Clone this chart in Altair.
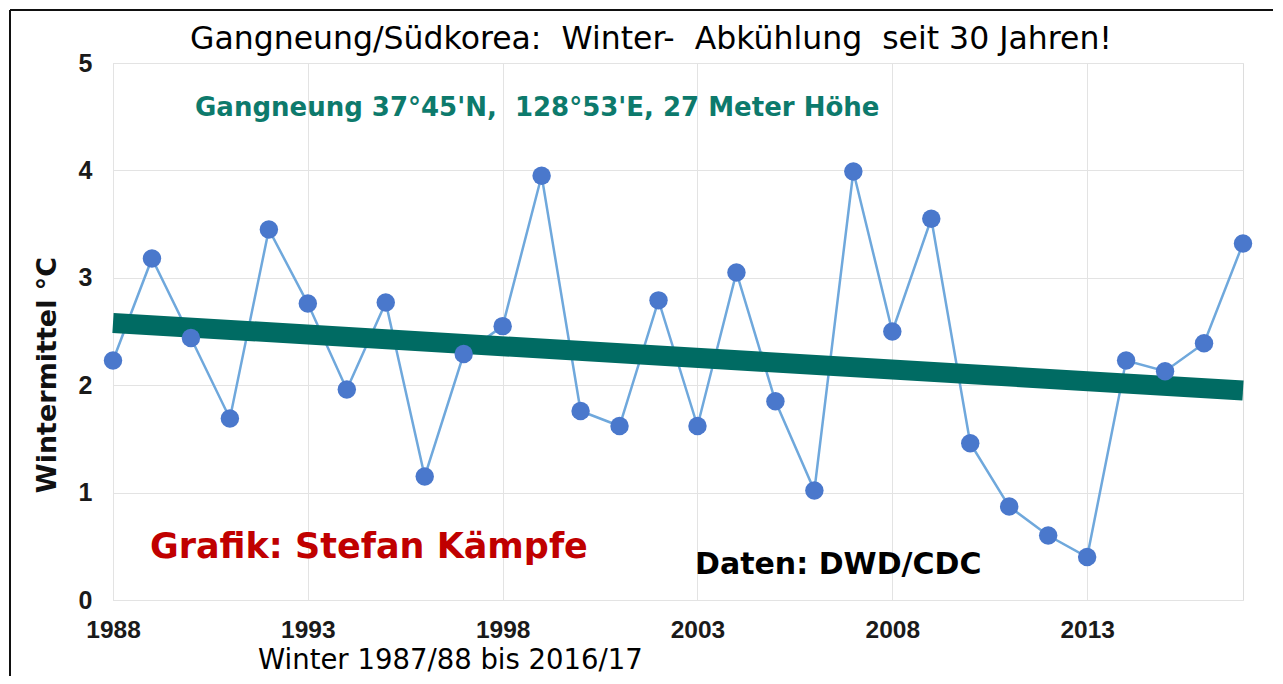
import altair as alt
import pandas as pd

years = list(range(1988, 2018))
temps = [2.23, 3.18, 2.44, 1.69, 3.45, 2.76, 1.96, 2.77, 1.15, 2.29,
         2.55, 3.95, 1.76, 1.62, 2.79, 1.62, 3.05, 1.85, 1.02, 3.99,
         2.50, 3.55, 1.46, 0.87, 0.60, 0.40, 2.23, 2.13, 2.39, 3.32]
trend_years = [1988, 2017]
trend_vals = [2.58, 1.95]
x_ticks = [1988, 1993, 1998, 2003, 2008, 2013]
y_ticks = [0, 1, 2, 3, 4, 5]

NB = "\u00a0"
title_text = f"Gangneung/Südkorea:{NB} Winter-{NB} Abkühlung{NB} seit 30 Jahren!"
subtitle_text = f"Gangneung 37°45'N,{NB} 128°53'E, 27 Meter Höhe"
credit_text = "Grafik: Stefan Kämpfe"
data_text = "Daten: DWD/CDC"
x_title = "Winter 1987/88 bis 2016/17"
y_title = "Wintermittel °C"

df = pd.DataFrame({"year": years, "temp": temps})
tdf = pd.DataFrame({"year": trend_years, "temp": trend_vals})

FONT = "Liberation Sans"
WIDE = "DejaVu Sans"

xs = alt.Scale(domain=[1988, 2017], nice=False, zero=False)
ys = alt.Scale(domain=[0, 5], nice=False)

x_axis = alt.Axis(values=x_ticks, format="d", labelFont=FONT, labelFontSize=24.5,
                  labelFontWeight="bold", labelColor="#1a1a1a", labelPadding=18,
                  labelFlush=False, tickSize=0, domain=False, grid=True,
                  gridColor="#e3e3e3", title=None)
y_axis = alt.Axis(values=y_ticks, format="d", labelFont=FONT, labelFontSize=25,
                  labelFontWeight="bold", labelColor="#1a1a1a", labelPadding=21,
                  labelFlush=False, tickSize=0, domain=False, grid=True,
                  gridColor="#e3e3e3", title=None)

base = alt.Chart(df)

line = base.mark_line(color="#6fa8dc", strokeWidth=2.5).encode(
    x=alt.X("year:Q", scale=xs, axis=x_axis),
    y=alt.Y("temp:Q", scale=ys, axis=y_axis),
)

trend = alt.Chart(tdf).mark_line(color="#006b63", strokeWidth=20, strokeCap="butt").encode(
    x=alt.X("year:Q", scale=xs),
    y=alt.Y("temp:Q", scale=ys),
)

points = base.mark_circle(color="#4a78cc", opacity=1, size=340).encode(
    x=alt.X("year:Q", scale=xs),
    y=alt.Y("temp:Q", scale=ys),
)

def label(text, x, y, size, color="#111", weight="bold", align="left", angle=None,
          font=WIDE, baseline="middle"):
    kw = dict(text=text, font=font, fontSize=size, fontWeight=weight, color=color,
              align=align, baseline=baseline)
    if angle is not None:
        kw["angle"] = angle
    return alt.Chart(pd.DataFrame({"a": [0]})).mark_text(**kw).encode(
        x=alt.value(x), y=alt.value(y))

title = label(title_text, 538, -23, 31.5, color="#000", weight="normal", align="center")
subtitle = label(subtitle_text, 82, 45, 26, color="#0d7a6c")
credit = label(credit_text, 37, 484, 35, color="#c00000")
datal = label(data_text, 582, 502, 30, color="#000")
xt = label(x_title, 145, 606, 27.5, color="#000", weight="normal", baseline="alphabetic")
yt = label(y_title, -65, 312, 27, align="center", angle=270)

border_top = alt.Chart(pd.DataFrame({"a": [0]})).mark_rule(color="#111", strokeWidth=2).encode(
    x=alt.value(-103), x2=alt.value(1160), y=alt.value(-53))
border_left = alt.Chart(pd.DataFrame({"a": [0]})).mark_rule(color="#111", strokeWidth=2).encode(
    x=alt.value(-103), y=alt.value(-53), y2=alt.value(640))

chart = alt.layer(
    line, trend, points, title, subtitle, credit, datal, xt, yt, border_top, border_left
).properties(
    width=1130, height=537,
    autosize=alt.AutoSizeParams(type="none"),
    padding={"left": 105, "top": 55, "right": 30, "bottom": 76},
).configure_view(
    stroke="#9a9a9a", strokeWidth=2
).configure(
    background="white"
)

chart.save("out.html", embed_options={"renderer": "svg", "actions": False})
